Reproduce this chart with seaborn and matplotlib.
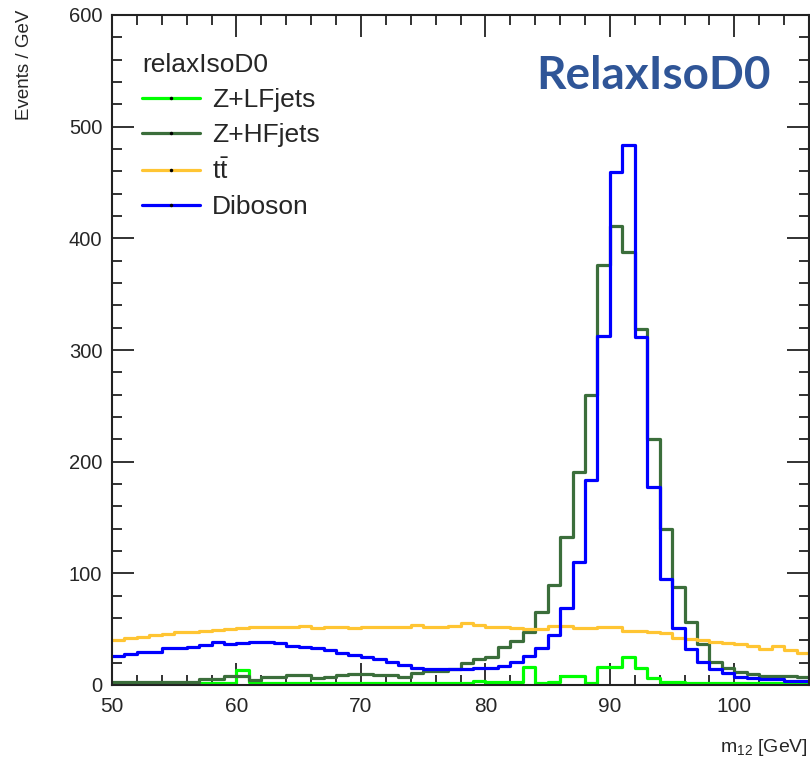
import numpy as np
import pandas as pd
import matplotlib
matplotlib.use("Agg")
import matplotlib.pyplot as plt
import seaborn as sns
from matplotlib.ticker import MultipleLocator
from matplotlib.lines import Line2D

# ---------------- data (1 GeV bins from 50 to 106 GeV) ----------------
bin_edges = list(range(50, 107))
bin_centers = [e + 0.5 for e in bin_edges[:-1]]

z_lf = [1.5, 1.5, 1.5, 1.5, 1.5, 1.5, 1.5, 1.5, 1.5, 1.5,
        13.4, 3.0, 2.1, 2.1, 2.0, 2.0, 1.8, 2.0, 2.0, 1.8,
        2.0, 1.8, 1.5, 2.0, 1.5, 2.0, 2.0, 1.5, 1.5, 3.9,
        2.4, 2.4, 2.4, 16.0, 1.5, 2.5, 8.1, 8.1, 1.5, 16.0,
        16.0, 25.0, 14.9, 6.0, 3.0, 3.0, 2.0, 2.0, 1.5, 2.0,
        1.5, 2.0, 1.5, 2.0, 1.5, 1.5]

z_hf = [3.0, 3.0, 3.0, 3.0, 3.0, 3.0, 3.0, 5.4, 5.4, 8.1,
        8.1, 4.5, 7.2, 7.2, 8.7, 8.7, 6.3, 7.2, 8.7, 9.9,
        9.9, 8.7, 8.7, 7.5, 10.4, 12.5, 12.5, 14.0, 20.0, 23.3,
        24.8, 33.7, 39.4, 47.8, 65.7, 89.6, 132.3, 191.0, 259.7, 376.1,
        411.3, 388.0, 318.8, 220.3, 139.7, 88.0, 56.7, 36.7, 20.9, 15.5,
        11.9, 9.6, 8.1, 8.1, 8.1, 6.9]

ttbar = [40.3, 41.8, 43.3, 44.8, 45.7, 47.2, 47.8, 48.7, 49.3, 49.9,
         50.7, 51.6, 51.6, 51.6, 51.6, 52.8, 51.3, 51.6, 51.6, 50.7,
         52.2, 52.2, 52.2, 52.2, 53.7, 52.2, 52.2, 52.8, 55.2, 53.7,
         52.2, 52.2, 50.7, 49.9, 49.9, 52.5, 52.5, 51.0, 51.0, 52.2,
         52.2, 48.7, 48.7, 47.8, 46.3, 42.2, 41.2, 40.3, 38.8, 37.3,
         36.4, 34.9, 32.2, 35.2, 31.3, 28.9]

diboson = [26.3, 27.5, 29.3, 29.3, 32.8, 32.8, 34.3, 35.8, 38.2, 36.7,
           37.9, 38.8, 38.8, 37.9, 35.2, 34.3, 32.8, 31.1, 28.4, 26.9,
           25.4, 23.3, 20.3, 17.9, 15.5, 14.3, 14.3, 14.3, 14.6, 14.9,
           15.5, 17.0, 20.9, 26.0, 32.8, 44.8, 68.7, 109.9, 183.6, 312.8,
           459.7, 483.6, 311.9, 177.0, 94.9, 51.3, 32.2, 20.3, 14.3, 10.4,
           7.5, 6.0, 5.1, 5.1, 3.9, 3.9]

process_names = ["Z+LFjets", "Z+HFjets", r"$\mathrm{t\bar{t}}$", "Diboson"]
process_values = [z_lf, z_hf, ttbar, diboson]
process_colors = ["#00ff00", "#3b6e3b", "#ffc533", "#0000ff"]

x_ticks = [50, 60, 70, 80, 90, 100]
y_ticks = [0, 100, 200, 300, 400, 500, 600]

# ---------------- style ----------------
sns.set_style("ticks")
plt.rcParams["font.family"] = ["Liberation Sans", "DejaVu Sans"]
plt.rcParams["mathtext.fontset"] = "custom"
plt.rcParams["mathtext.rm"] = "Liberation Sans"
plt.rcParams["mathtext.it"] = "Liberation Sans"
plt.rcParams["mathtext.bf"] = "Liberation Sans:bold"

fig = plt.figure(figsize=(8.1, 7.65), dpi=100)
ax = fig.add_axes([112 / 810, 1 - 685 / 765, 697 / 810, 670 / 765])

for name, vals, col in zip(process_names, process_values, process_colors):
    df = pd.DataFrame({"m12": bin_centers, "w": vals})
    sns.histplot(data=df, x="m12", weights="w", bins=bin_edges,
                 element="step", fill=False, color=col, linewidth=2.3,
                 ax=ax)

ax.set_xlim(50, 106)
ax.set_ylim(0, 600)
ax.set_xticks(x_ticks)
ax.set_yticks(y_ticks)
ax.xaxis.set_minor_locator(MultipleLocator(2))
ax.yaxis.set_minor_locator(MultipleLocator(20))
ax.tick_params(which="both", direction="in", top=True, right=True,
               color="#222222")
ax.tick_params(which="major", length=15.5, width=1.3)
ax.tick_params(which="minor", length=7.5, width=1.3)
ax.tick_params(axis="x", which="major", labelsize=15, pad=9)
ax.tick_params(axis="y", which="major", labelsize=14.5, pad=7)
for s in ax.spines.values():
    s.set_linewidth(1.5)
    s.set_color("#222222")

ax.set_xlabel(r"m$_{12}$ [GeV]", fontsize=14, loc="right")
ax.xaxis.set_label_coords(0.999, -0.078)
ax.set_ylabel("Events / GeV", fontsize=13.5, loc="top")
ax.yaxis.set_label_coords(-0.113, 1.008)

handles = [Line2D([0], [0], color=c, linewidth=2.3, marker="o",
                  markersize=1.5, markerfacecolor="black",
                  markeredgecolor="black")
           for c in process_colors]
leg = ax.legend(handles, process_names, title="relaxIsoD0",
                loc="upper left", bbox_to_anchor=(142 / 810, 1 - 53 / 765),
                bbox_transform=fig.transFigure, frameon=False,
                fontsize=19, title_fontsize=19, alignment="left",
                handlelength=2.2, handletextpad=0.45, labelspacing=0.42,
                borderpad=0, borderaxespad=0, numpoints=1)

fig.text(653 / 810, 1 - 76 / 765, "RelaxIsoD0", ha="center", va="center",
         fontsize=33, fontweight="bold", color="#2f5597", family="Lato")

fig.savefig("out.png", dpi=100)
